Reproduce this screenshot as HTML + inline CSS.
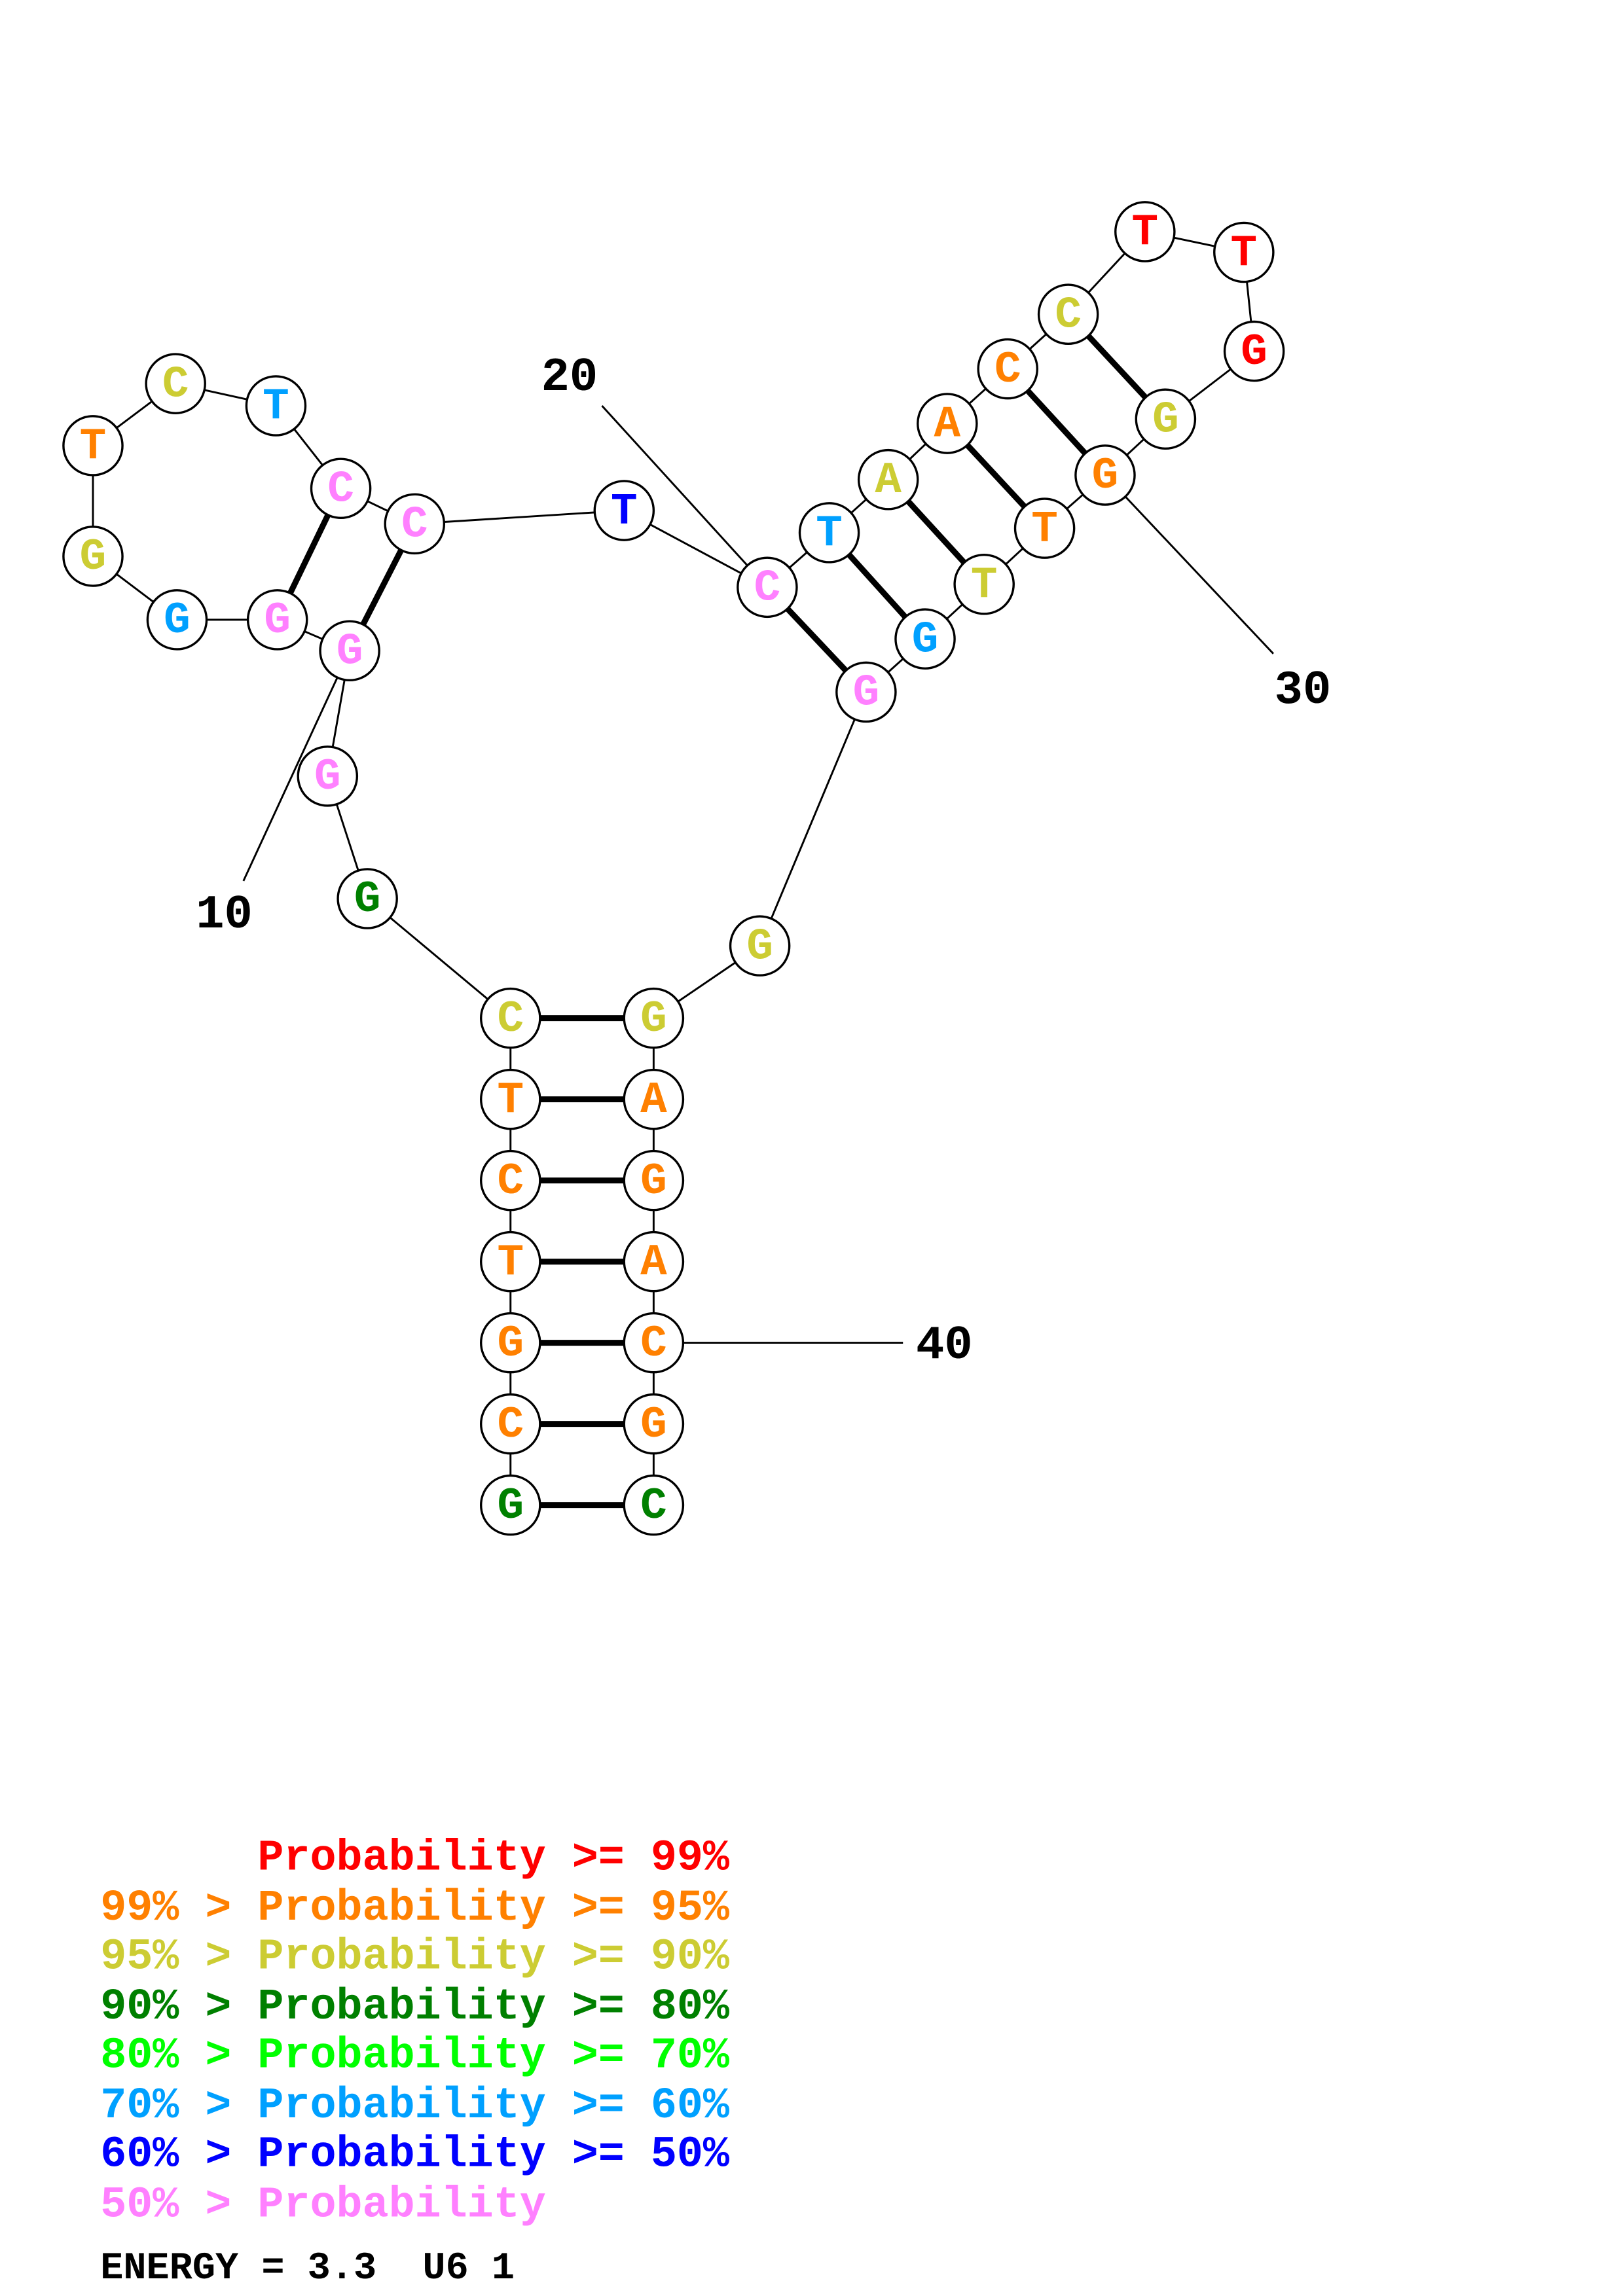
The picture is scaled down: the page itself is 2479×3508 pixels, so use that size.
<!DOCTYPE html>
<html><head><meta charset="utf-8"><style>html,body{margin:0;padding:0;background:#fff}svg{display:block}.pre{white-space:pre}</style></head><body>
<svg width="2479" height="3508" viewBox="0 0 1100 1556" preserveAspectRatio="none" xmlns="http://www.w3.org/2000/svg">
<rect width="1100" height="1556" fill="#fff"/>
<g stroke="#000" stroke-width="1.3" fill="none">
<polyline points="346,1020 346,965 346,910 346,855 346,800 346,745 346,690 249,609 222,526 237,441 188,420 120,420 63,377 63,302 119,260 187,275 231,331 281,355 423,346 520,398 562,361 602,325 642,287 683,250 724,213 776,157 843,171 850,238 790,284 749,322 708,358 667,396 627,433 587,469 515,641 443,690 443,745 443,800 443,855 443,910 443,965 443,1020"/>
<line x1="408" y1="275" x2="520" y2="398"/>
<line x1="165" y1="597" x2="237" y2="441"/>
<line x1="863" y1="443" x2="749" y2="322"/>
<line x1="443" y1="910" x2="612" y2="910"/>
</g>
<g stroke="#000" stroke-width="4">
<line x1="346" y1="1020" x2="443" y2="1020"/><line x1="346" y1="965" x2="443" y2="965"/>
<line x1="346" y1="910" x2="443" y2="910"/><line x1="346" y1="855" x2="443" y2="855"/>
<line x1="346" y1="800" x2="443" y2="800"/><line x1="346" y1="745" x2="443" y2="745"/>
<line x1="346" y1="690" x2="443" y2="690"/>
<line x1="237" y1="441" x2="281" y2="355"/><line x1="188" y1="420" x2="231" y2="331"/>
<line x1="520" y1="398" x2="587" y2="469"/><line x1="562" y1="361" x2="627" y2="433"/>
<line x1="602" y1="325" x2="667" y2="396"/><line x1="642" y1="287" x2="708" y2="358"/>
<line x1="683" y1="250" x2="749" y2="322"/><line x1="724" y1="213" x2="790" y2="284"/>
</g>
<g stroke="#000" stroke-width="1.5" fill="#fff">
<circle cx="346" cy="1020" r="20"/><circle cx="346" cy="965" r="20"/><circle cx="346" cy="910" r="20"/><circle cx="346" cy="855" r="20"/><circle cx="346" cy="800" r="20"/><circle cx="346" cy="745" r="20"/><circle cx="346" cy="690" r="20"/>
<circle cx="249" cy="609" r="20"/><circle cx="222" cy="526" r="20"/><circle cx="237" cy="441" r="20"/><circle cx="188" cy="420" r="20"/><circle cx="120" cy="420" r="20"/><circle cx="63" cy="377" r="20"/><circle cx="63" cy="302" r="20"/><circle cx="119" cy="260" r="20"/><circle cx="187" cy="275" r="20"/><circle cx="231" cy="331" r="20"/><circle cx="281" cy="355" r="20"/><circle cx="423" cy="346" r="20"/><circle cx="520" cy="398" r="20"/><circle cx="562" cy="361" r="20"/><circle cx="602" cy="325" r="20"/><circle cx="642" cy="287" r="20"/><circle cx="683" cy="250" r="20"/><circle cx="724" cy="213" r="20"/><circle cx="776" cy="157" r="20"/><circle cx="843" cy="171" r="20"/><circle cx="850" cy="238" r="20"/><circle cx="790" cy="284" r="20"/><circle cx="749" cy="322" r="20"/><circle cx="708" cy="358" r="20"/><circle cx="667" cy="396" r="20"/><circle cx="627" cy="433" r="20"/><circle cx="587" cy="469" r="20"/><circle cx="515" cy="641" r="20"/>
<circle cx="443" cy="690" r="20"/><circle cx="443" cy="745" r="20"/><circle cx="443" cy="800" r="20"/><circle cx="443" cy="855" r="20"/><circle cx="443" cy="910" r="20"/><circle cx="443" cy="965" r="20"/><circle cx="443" cy="1020" r="20"/>
</g>
<g font-family="Liberation Mono, monospace" font-weight="bold" font-size="30" text-anchor="middle" dominant-baseline="central">
<text x="346" y="1021" fill="#008000">G</text><text x="346" y="966" fill="#ff8000">C</text><text x="346" y="911" fill="#ff8000">G</text><text x="346" y="856" fill="#ff8000">T</text><text x="346" y="801" fill="#ff8000">C</text><text x="346" y="746" fill="#ff8000">T</text><text x="346" y="691" fill="#cccc33">C</text>
<text x="249" y="610" fill="#008000">G</text><text x="222" y="527" fill="#ff80ff">G</text><text x="237" y="442" fill="#ff80ff">G</text><text x="188" y="421" fill="#ff80ff">G</text><text x="120" y="421" fill="#00a0ff">G</text><text x="63" y="378" fill="#cccc33">G</text><text x="63" y="303" fill="#ff8000">T</text><text x="119" y="261" fill="#cccc33">C</text><text x="187" y="276" fill="#00a0ff">T</text><text x="231" y="332" fill="#ff80ff">C</text><text x="281" y="356" fill="#ff80ff">C</text><text x="423" y="347" fill="#0000ff">T</text><text x="520" y="399" fill="#ff80ff">C</text><text x="562" y="362" fill="#00a0ff">T</text><text x="602" y="326" fill="#cccc33">A</text><text x="642" y="288" fill="#ff8000">A</text><text x="683" y="251" fill="#ff8000">C</text><text x="724" y="214" fill="#cccc33">C</text><text x="776" y="158" fill="#ff0000">T</text><text x="843" y="172" fill="#ff0000">T</text><text x="850" y="239" fill="#ff0000">G</text><text x="790" y="285" fill="#cccc33">G</text><text x="749" y="323" fill="#ff8000">G</text><text x="708" y="359" fill="#ff8000">T</text><text x="667" y="397" fill="#cccc33">T</text><text x="627" y="434" fill="#00a0ff">G</text><text x="587" y="470" fill="#ff80ff">G</text><text x="515" y="642" fill="#cccc33">G</text>
<text x="443" y="691" fill="#cccc33">G</text><text x="443" y="746" fill="#ff8000">A</text><text x="443" y="801" fill="#ff8000">G</text><text x="443" y="856" fill="#ff8000">A</text><text x="443" y="911" fill="#ff8000">C</text><text x="443" y="966" fill="#ff8000">G</text><text x="443" y="1021" fill="#008000">C</text>
</g>
<g font-family="Liberation Mono, monospace" font-weight="bold" font-size="32" fill="#000" text-anchor="middle" dominant-baseline="central">
<text x="386" y="256">20</text><text x="152" y="620">10</text><text x="883" y="468">30</text><text x="640" y="912">40</text>
</g>
<g font-family="Liberation Mono, monospace" font-weight="bold" font-size="29.6" class="pre">
<text class="pre" x="68" y="1267" fill="#ff0000">      Probability &gt;= 99%</text>
<text class="pre" x="68" y="1301" fill="#ff8000">99% &gt; Probability &gt;= 95%</text>
<text class="pre" x="68" y="1334" fill="#cccc33">95% &gt; Probability &gt;= 90%</text>
<text class="pre" x="68" y="1368" fill="#008000">90% &gt; Probability &gt;= 80%</text>
<text class="pre" x="68" y="1401" fill="#00ff00">80% &gt; Probability &gt;= 70%</text>
<text class="pre" x="68" y="1435" fill="#00a0ff">70% &gt; Probability &gt;= 60%</text>
<text class="pre" x="68" y="1468" fill="#0000ff">60% &gt; Probability &gt;= 50%</text>
<text class="pre" x="68" y="1502" fill="#ff80ff">50% &gt; Probability</text>
<text class="pre" x="68" y="1544" fill="#000" font-size="26">ENERGY = 3.3  U6 1</text>
</g>
</svg>
</body></html>
